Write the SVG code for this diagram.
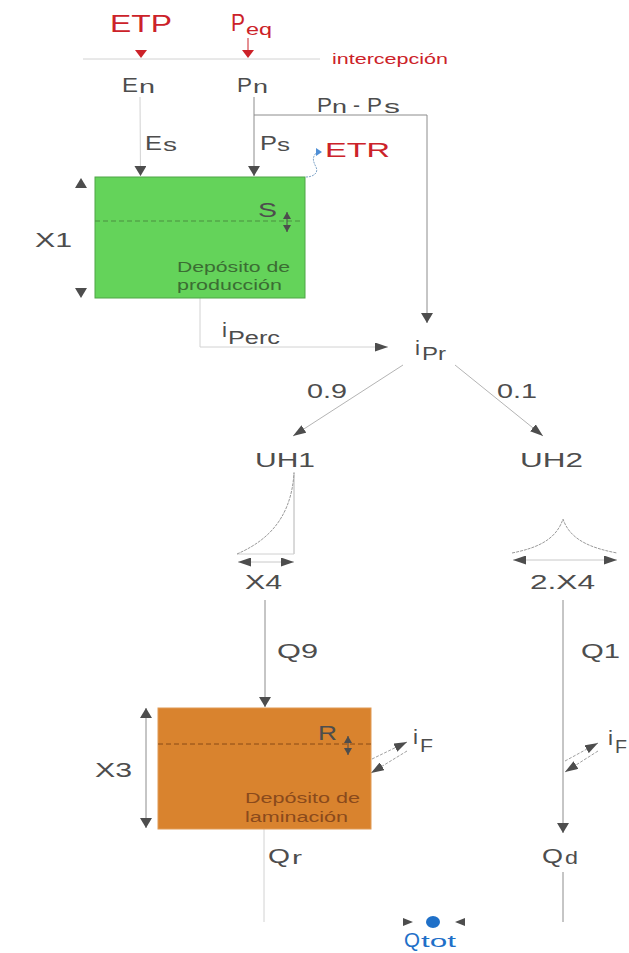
<svg xmlns="http://www.w3.org/2000/svg" width="629" height="953" viewBox="0 0 629 953">
<style>
text{font-family:"Liberation Sans",Arial,sans-serif;fill:#4d4d4d}
.red{fill:#cc2229}
.blue{fill:#1f70c8}
.big{font-size:21px}
.sub{font-size:18px}
.sm{font-size:14px}
.ln{stroke:#8c8c8c;stroke-width:1;fill:none}
.lt{stroke:#d2d2d2;stroke-width:1;fill:none}
.dl{stroke:#a0a0a0;stroke-width:1;fill:none;stroke-dasharray:3,1.5}
.head{fill:#4d4d4d}
</style>
<defs>
<marker id="ah" viewBox="0 0 10 12" refX="10" refY="6" markerWidth="10" markerHeight="12" markerUnits="userSpaceOnUse" orient="auto-start-reverse"><path d="M0,0 L10,6 L0,12 Z" fill="#4d4d4d"/></marker>
<marker id="ahl" viewBox="0 0 13 9" refX="13" refY="4.5" markerWidth="13" markerHeight="9" markerUnits="userSpaceOnUse" orient="auto-start-reverse"><path d="M0,0 L13,4.5 L0,9 Z" fill="#4d4d4d"/></marker>
<marker id="ahs" viewBox="0 0 7 8" refX="7" refY="4" markerWidth="7" markerHeight="8" markerUnits="userSpaceOnUse" orient="auto-start-reverse"><path d="M0,0 L7,4 L0,8 Z" fill="#4d4d4d"/></marker>
</defs>

<g id="connectors">
  <line class="lt" x1="83" y1="59" x2="320" y2="59" stroke="#dcdcdc"/>
  <line x1="248" y1="38" x2="248" y2="50" stroke="#cc2229" stroke-width="1"/>
  <polygon points="135,50 147,50 141,58" fill="#cc2229"/>
  <polygon points="242,50 254,50 248,58" fill="#cc2229"/>
  <line class="lt" x1="140" y1="97" x2="140.5" y2="176" stroke="#e0e0e0" marker-end="url(#ah)"/>
  <line class="ln" x1="254" y1="97" x2="254" y2="176" marker-end="url(#ah)"/>
  <polyline class="ln" points="254,115 427,115 427,323" marker-end="url(#ah)"/>
  <path d="M306,177 C313,177 319,173 316,167 C313,161 312,158 316,153" fill="none" stroke="#7fa5c8" stroke-width="1" stroke-dasharray="2,1"/>
  <polygon points="316,148 322,152 316,156" fill="#4f8fd6"/>
  <polyline class="lt" points="200,298 200,347 388,347" marker-end="url(#ahl)"/>
  <line x1="403" y1="365" x2="293" y2="436" stroke="#b4b4b4" stroke-width="1" marker-end="url(#ahl)"/>
  <line x1="455" y1="365" x2="543" y2="436" stroke="#b4b4b4" stroke-width="1" marker-end="url(#ahl)"/>
  <line class="ln" x1="265" y1="600" x2="265" y2="707" stroke="#a0a0a0" marker-end="url(#ah)"/>
  <line class="ln" x1="563" y1="600" x2="563" y2="833" stroke="#a0a0a0" marker-end="url(#ah)"/>
  <line class="dl" x1="372" y1="759" x2="407" y2="742" marker-end="url(#ahl)"/>
  <line class="dl" x1="407" y1="751" x2="371" y2="773" marker-end="url(#ahl)"/>
  <line class="dl" x1="565" y1="761" x2="598" y2="743" marker-end="url(#ahl)"/>
  <line class="dl" x1="598" y1="751" x2="565" y2="772" marker-end="url(#ahl)"/>
  <line class="lt" x1="264" y1="829" x2="264" y2="922"/>
  <line class="ln" x1="563" y1="872" x2="563" y2="922" stroke="#a0a0a0"/>
</g>

<g id="etp"><text class="red" x="110" y="32" font-size="23" textLength="62" lengthAdjust="spacingAndGlyphs">ETP</text></g>
<g id="peq">
  <text class="red" x="231" y="31" font-size="23" textLength="14" lengthAdjust="spacingAndGlyphs">P</text>
  <text class="red" x="246" y="35" font-size="17" textLength="26" lengthAdjust="spacingAndGlyphs">eq</text>
</g>
<g id="intercepcion"><text class="red sm" x="332" y="64" textLength="116" lengthAdjust="spacingAndGlyphs">intercepción</text></g>

<g id="en">
  <text class="big" x="122" y="92" textLength="16" lengthAdjust="spacingAndGlyphs">E</text>
  <text class="sub" x="139" y="93" textLength="16" lengthAdjust="spacingAndGlyphs">n</text>
</g>
<g id="pn">
  <text class="big" x="237" y="92" textLength="15" lengthAdjust="spacingAndGlyphs">P</text>
  <text class="sub" x="253" y="93" textLength="15" lengthAdjust="spacingAndGlyphs">n</text>
</g>
<g id="pn-ps">
  <text class="big" x="317" y="112" textLength="15" lengthAdjust="spacingAndGlyphs">P</text>
  <text class="sub" x="332" y="113" textLength="15" lengthAdjust="spacingAndGlyphs">n</text>
  <text class="big" x="353" y="112" textLength="7" lengthAdjust="spacingAndGlyphs">-</text>
  <text class="big" x="367" y="112" textLength="15" lengthAdjust="spacingAndGlyphs">P</text>
  <text class="sub" x="384" y="113" textLength="16" lengthAdjust="spacingAndGlyphs">s</text>
</g>
<g id="es">
  <text class="big" x="145" y="150" textLength="17" lengthAdjust="spacingAndGlyphs">E</text>
  <text class="sub" x="163" y="151" textLength="14" lengthAdjust="spacingAndGlyphs">s</text>
</g>
<g id="ps">
  <text class="big" x="260" y="150" textLength="17" lengthAdjust="spacingAndGlyphs">P</text>
  <text class="sub" x="277" y="151" textLength="13" lengthAdjust="spacingAndGlyphs">s</text>
</g>
<g id="etr"><text class="red big" x="325" y="157" textLength="65" lengthAdjust="spacingAndGlyphs">ETR</text></g>

<g id="deposito-produccion">
  <rect x="95" y="177" width="210" height="121" fill="#64d35a" stroke="#4fa547" stroke-width="1"/>
  <line x1="95" y1="221" x2="302" y2="221" stroke="#4a8f40" stroke-width="1" stroke-dasharray="5,3"/>
  <text class="big" x="258" y="217" textLength="19" lengthAdjust="spacingAndGlyphs">S</text>
  <line x1="287" y1="212" x2="287" y2="232" stroke="#4d4d4d" stroke-width="1" marker-start="url(#ahs)" marker-end="url(#ahs)"/>
  <text class="sm" x="177" y="272" style="fill:#3b6d33" textLength="113" lengthAdjust="spacingAndGlyphs">Depósito de</text>
  <text class="sm" x="177" y="290" style="fill:#3b6d33" textLength="105" lengthAdjust="spacingAndGlyphs">producción</text>
  <polygon class="head" points="75,188 87,188 81,178"/>
  <polygon class="head" points="75,288 87,288 81,298"/>
  <text class="big" x="35" y="247" textLength="37" lengthAdjust="spacingAndGlyphs">X1</text>
</g>

<g id="iperc">
  <text class="big" x="222" y="337" textLength="5" lengthAdjust="spacingAndGlyphs">i</text>
  <text class="sub" x="228" y="344" textLength="52" lengthAdjust="spacingAndGlyphs">Perc</text>
</g>
<g id="ipr">
  <text class="big" x="415" y="355" textLength="5" lengthAdjust="spacingAndGlyphs">i</text>
  <text class="sub" x="422" y="360" textLength="24" lengthAdjust="spacingAndGlyphs">Pr</text>
</g>
<g id="split-labels">
  <text class="big" x="307" y="398" textLength="40" lengthAdjust="spacingAndGlyphs">0.9</text>
  <text class="big" x="497" y="398" textLength="40" lengthAdjust="spacingAndGlyphs">0.1</text>
</g>

<g id="uh1">
  <text class="big" x="255" y="467" textLength="60" lengthAdjust="spacingAndGlyphs">UH1</text>
  <line x1="294" y1="472" x2="294" y2="554" stroke="#b4b4b4" stroke-width="1"/>
  <line x1="237" y1="554" x2="294" y2="554" stroke="#d0d0d0" stroke-width="1"/>
  <path d="M237,554 C262,543 291,523 294,473" fill="none" stroke="#9a9a9a" stroke-width="1" stroke-dasharray="3,1"/>
  <line x1="238" y1="562" x2="294" y2="562" stroke="#c8c8c8" stroke-width="1" marker-start="url(#ahl)" marker-end="url(#ahl)"/>
  <text class="big" x="245" y="589" textLength="37" lengthAdjust="spacingAndGlyphs">X4</text>
</g>
<g id="uh2">
  <text class="big" x="520" y="467" textLength="63" lengthAdjust="spacingAndGlyphs">UH2</text>
  <path d="M512,553 C537,548 556,540 563,519 C570,540 591,548 617,553" fill="none" stroke="#9a9a9a" stroke-width="1" stroke-dasharray="3,1"/>
  <line x1="513" y1="560" x2="617" y2="560" stroke="#c8c8c8" stroke-width="1" marker-start="url(#ahl)" marker-end="url(#ahl)"/>
  <text class="big" x="530" y="589" textLength="65" lengthAdjust="spacingAndGlyphs">2.X4</text>
</g>
<g id="q9"><text class="big" x="277" y="658" textLength="41" lengthAdjust="spacingAndGlyphs">Q9</text></g>
<g id="q1"><text class="big" x="581" y="658" textLength="39" lengthAdjust="spacingAndGlyphs">Q1</text></g>

<g id="deposito-laminacion">
  <rect x="158" y="708" width="213" height="121" fill="#d9832e" stroke="#e09a55" stroke-width="1"/>
  <line x1="158" y1="744" x2="371" y2="744" stroke="#8a4a14" stroke-width="1" stroke-dasharray="5,3"/>
  <text class="big" x="318" y="740" textLength="19" lengthAdjust="spacingAndGlyphs">R</text>
  <line x1="348" y1="736" x2="348" y2="755" stroke="#4d4d4d" stroke-width="1" marker-start="url(#ahs)" marker-end="url(#ahs)"/>
  <text class="sm" x="245" y="803" style="fill:#8a4a1c" textLength="115" lengthAdjust="spacingAndGlyphs">Depósito de</text>
  <text class="sm" x="245" y="822" style="fill:#8a4a1c" textLength="103" lengthAdjust="spacingAndGlyphs">laminación</text>
  <line x1="146" y1="708" x2="146" y2="828" stroke="#8c8c8c" stroke-width="1" marker-start="url(#ah)" marker-end="url(#ah)"/>
  <text class="big" x="95" y="777" textLength="37" lengthAdjust="spacingAndGlyphs">X3</text>
</g>

<g id="if-left">
  <text class="big" x="413" y="744" textLength="5" lengthAdjust="spacingAndGlyphs">i</text>
  <text class="sub" x="420" y="752" textLength="13" lengthAdjust="spacingAndGlyphs">F</text>
</g>
<g id="if-right">
  <text class="big" x="608" y="745" textLength="5" lengthAdjust="spacingAndGlyphs">i</text>
  <text class="sub" x="615" y="753" textLength="12" lengthAdjust="spacingAndGlyphs">F</text>
</g>
<g id="qr">
  <text class="big" x="268" y="863" textLength="22" lengthAdjust="spacingAndGlyphs">Q</text>
  <text class="sub" x="292" y="864" textLength="10" lengthAdjust="spacingAndGlyphs">r</text>
</g>
<g id="qd">
  <text class="big" x="542" y="863" textLength="21" lengthAdjust="spacingAndGlyphs">Q</text>
  <text class="sub" x="565" y="864" textLength="13" lengthAdjust="spacingAndGlyphs">d</text>
</g>
<g id="qtot">
  <polygon class="head" points="403,918 413,922 403,926"/>
  <ellipse cx="433" cy="922" rx="7" ry="6" fill="#1f70c8"/>
  <polygon class="head" points="465,918 455,922 465,926"/>
  <text class="blue big" x="404" y="947" textLength="16" lengthAdjust="spacingAndGlyphs">Q</text>
  <text class="blue" x="421" y="947" font-size="17" textLength="35" lengthAdjust="spacingAndGlyphs">tot</text>
</g>
</svg>
